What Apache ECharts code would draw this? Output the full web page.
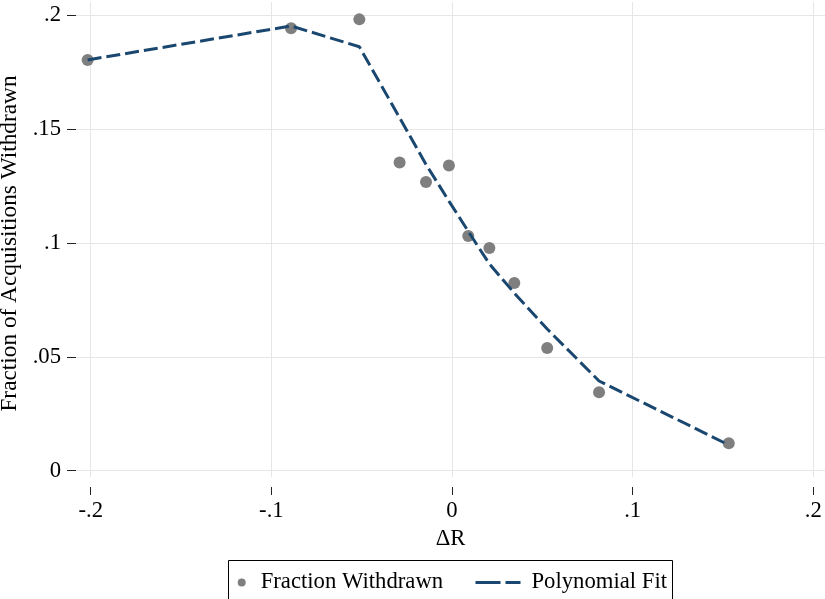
<!DOCTYPE html>
<html>
<head>
<meta charset="utf-8">
<script src="https://cdn.jsdelivr.net/npm/echarts@6/dist/echarts.min.js"></script>
<style>html,body{margin:0;padding:0;background:#fff}#c{width:825px;height:599px}</style>
</head>
<body>
<div id="c"></div>
<script>
const deltaR = [-0.2017, -0.0891, -0.0513, -0.0290, -0.0144, -0.0017, 0.0090, 0.0207, 0.0345, 0.0527, 0.0814, 0.1532];
const fractionWithdrawn = [0.1804, 0.1943, 0.1982, 0.1353, 0.1268, 0.1340, 0.1031, 0.0978, 0.0824, 0.0539, 0.0345, 0.0120];
const polynomialFit = [0.1804, 0.1953, 0.1862, 0.1550, 0.1345, 0.1184, 0.1051, 0.0908, 0.0780, 0.0622, 0.0394, 0.0113];
const xTicks = [-0.2, -0.1, 0, 0.1, 0.2];
const yTicks = [0, 0.05, 0.1, 0.15, 0.2];

const FONT = '"Liberation Serif", "Times New Roman", serif';
const FS = 22.7;
const fmt = v => v === 0 ? '0' : String(+v.toFixed(4)).replace('0.', '.');

const chart = echarts.init(document.getElementById('c'), null, {renderer: 'canvas'});
chart.setOption({
  animation: false,
  backgroundColor: '#fff',
  textStyle: {fontFamily: FONT},
  grid: {left: 76, right: 0, top: 2, bottom: 122, containLabel: false, outerBoundsMode: 'none'},
  xAxis: {
    type: 'value', min: -0.20814, max: 0.20647, offset: 10,
    name: 'ΔR', nameLocation: 'middle', nameGap: 38,
    nameTextStyle: {fontFamily: FONT, fontSize: FS, color: '#000'},
    axisLine: {show: false, onZero: false},
    axisTick: {show: true, length: 8, customValues: xTicks, lineStyle: {color: '#222', width: 1}},
    axisLabel: {customValues: xTicks, formatter: fmt, fontFamily: FONT, fontSize: FS, color: '#000', margin: 13},
    splitLine: {show: true, lineStyle: {color: '#e6e6e6', width: 1}}
  },
  yAxis: {
    type: 'value', min: -0.00277, max: 0.20583,
    name: 'Fraction of Acquisitions Withdrawn', nameLocation: 'middle', nameGap: 47,
    nameTextStyle: {fontFamily: FONT, fontSize: 23.3, color: '#000', padding: [0, 8, 0, 0]},
    axisLine: {show: false, onZero: false},
    axisTick: {show: true, length: 9, customValues: yTicks, lineStyle: {color: '#222', width: 1}},
    axisLabel: {customValues: yTicks, formatter: fmt, fontFamily: FONT, fontSize: FS, color: '#000', margin: 15},
    splitLine: {show: true, lineStyle: {color: '#e6e6e6', width: 1}}
  },
  legend: [
    {
      left: 237.7, top: 571, padding: 0,
      itemWidth: 28, itemHeight: 8,
      data: [{name: 'Fraction Withdrawn', icon: 'circle'}],
      itemStyle: {color: '#7f7f7f', opacity: 1},
      textStyle: {fontFamily: FONT, fontSize: FS, color: '#000'}
    },
    {
      left: 474, top: 571, padding: 0,
      itemWidth: 51, itemHeight: 8,
      data: [{name: 'Polynomial Fit'}],
      itemStyle: {opacity: 0},
      lineStyle: {type: [25, 5, 15, 6], width: 3, color: '#1a476f', opacity: 1},
      textStyle: {fontFamily: FONT, fontSize: FS, color: '#000'}
    }
  ],
  graphic: [{
    type: 'rect', shape: {x: 228.5, y: 560.5, width: 444, height: 60},
    style: {fill: 'none', stroke: '#000', lineWidth: 1}, silent: true
  }],
  series: [
    {
      name: 'Fraction Withdrawn', type: 'scatter',
      data: deltaR.map((x, i) => [x, fractionWithdrawn[i]]),
      symbol: 'circle', symbolSize: 12,
      itemStyle: {color: '#7f7f7f', opacity: 1}, z: 2
    },
    {
      name: 'Polynomial Fit', type: 'line',
      data: deltaR.map((x, i) => [x, polynomialFit[i]]),
      showSymbol: false, symbol: 'none',
      lineStyle: {color: '#1a476f', width: 3, type: [14, 5]},
      itemStyle: {color: '#1a476f'}, z: 3
    }
  ]
});
</script>
</body>
</html>
